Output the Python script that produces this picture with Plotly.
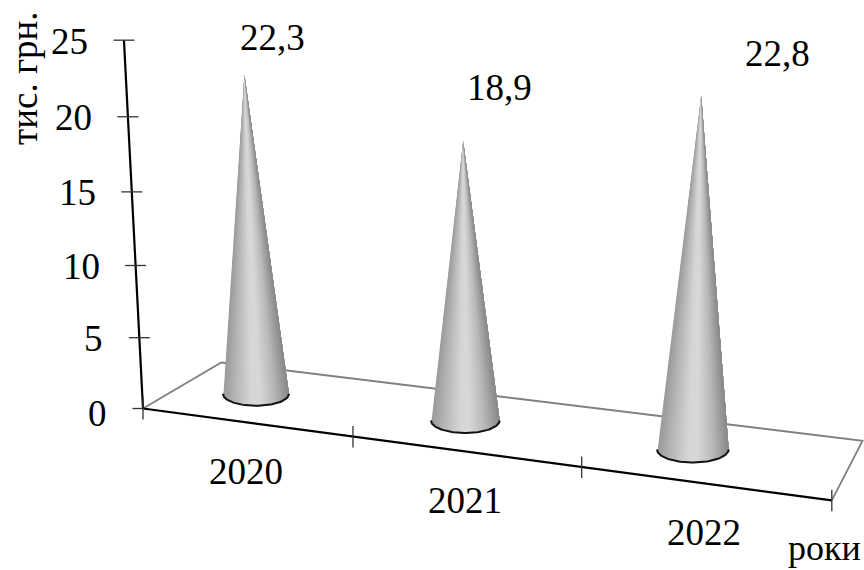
import numpy as np
import plotly.graph_objects as go

# Chart data
categories = ["2020", "2021", "2022"]
values = [22.3, 18.9, 22.8]
value_labels = ["22,3", "18,9", "22,8"]
value_ticks = [0, 5, 10, 15, 20, 25]
y_title = "тис. грн."
x_title = "роки"

FONT = "Liberation Serif"
FONT_SIZE = 37
WIDTH, HEIGHT = 864, 570


def project(u, w, v):
    """Perspective view: u along the categories, w into the depth, v up the value axis."""
    d = 1 - 0.041 * u + 0.08 * w - 0.00192 * v
    x = (143 + 195.5 * u + 96 * w - 1.0 * v) / d
    y = (408.5 + 10.1 * u - 17 * w - 14.81 * v) / d
    return x, y, d


def line(points, color, width):
    xs, ys = zip(*[project(*p)[:2] for p in points])
    return go.Scatter(x=xs, y=ys, mode="lines", line=dict(color=color, width=width),
                      hoverinfo="skip", showlegend=False)


def shade(t):
    """Grey level across the cone, t running from -1 (left) to 1 (right)."""
    stops_t = [-1.0, -0.6, -0.15, 0.1, 0.55, 1.0]
    stops_g = [155, 185, 214, 216, 185, 135]
    g = int(np.interp(t, stops_t, stops_g))
    return f"rgb({g},{g},{g})"


def cone_traces(position, value):
    cx, cy, d = project(position + 0.365, 0.5, 0)
    ax, ay, _ = project(position + 0.365, 0.5, value)
    rx, ry = 33.8 / d, 12.3 / d
    traces = []
    # Painted left to right so that each strip overlaps the next one without seams
    for t in np.linspace(-1, 1, 64)[:-1]:
        theta = np.linspace(np.arccos(t), 0, 40)
        xs = np.concatenate([[ax], cx + rx * np.cos(theta), [ax]])
        ys = np.concatenate([[ay], cy + ry * np.sin(theta), [ay]])
        traces.append(go.Scatter(x=xs, y=ys, mode="lines", fill="toself",
                                 fillcolor=shade(t), line=dict(width=0),
                                 hoverinfo="skip", showlegend=False))
    theta = np.linspace(np.pi, 0, 60)
    traces.append(go.Scatter(x=cx + rx * np.cos(theta), y=cy + ry * np.sin(theta),
                             mode="lines", line=dict(color="#111111", width=2),
                             hoverinfo="skip", showlegend=False))
    return traces


fig = go.Figure()

# Floor outline
n = len(categories)
fig.add_trace(line([(0, 0, 0), (0, 1, 0), (n, 1, 0), (n, 0, 0)], "#808080", 1.8))

# Cones
for i, value in enumerate(values):
    fig.add_traces(cone_traces(i, value))

# Value axis and its ticks
fig.add_trace(line([(0, 0, 0), (0, 0, value_ticks[-1])], "#000000", 2.2))
annotations = []
for v in value_ticks:
    x, y, _ = project(0, 0, v)
    fig.add_trace(go.Scatter(x=[x - 10.5, x + 10.5 if v else x], y=[y, y], mode="lines",
                             line=dict(color="#333333", width=1.3),
                             hoverinfo="skip", showlegend=False))
    annotations.append(dict(x=x - 34, y=y + (5 if v == 0 else 1), text=str(v), xanchor="right", yanchor="middle"))

# Category axis and its ticks
fig.add_trace(line([(0, 0, 0), (n, 0, 0)], "#000000", 2.2))
for i in range(n + 1):
    x, y, _ = project(i, 0, 0)
    fig.add_trace(go.Scatter(x=[x, x], y=[y - 10.5, y + 11], mode="lines",
                             line=dict(color="#333333", width=1.3),
                             hoverinfo="skip", showlegend=False))
for i, name in enumerate(categories):
    x, y, _ = project(i + 0.5, 0, 0)
    annotations.append(dict(x=x, y=y + 49, text=name, xanchor="center", yanchor="middle"))

# Value labels above the cones
label_offsets = [(29, -37), (37, -54), (78, -42)]
for i, (text, value) in enumerate(zip(value_labels, values)):
    x, y, _ = project(i + 0.36, 0.5, value)
    dx, dy = label_offsets[i]
    annotations.append(dict(x=x + dx, y=y + dy, text=text, xanchor="center", yanchor="middle"))

# Axis titles
annotations.append(dict(x=24, y=78, text=y_title, textangle=-90, xanchor="center", yanchor="middle"))
annotations.append(dict(x=824, y=548, text=x_title, xanchor="center", yanchor="middle",
                        font_size=36))

for a in annotations:
    size = a.pop("font_size", FONT_SIZE)
    a.update(xref="x", yref="y", showarrow=False, font=dict(family=FONT, size=size, color="#000000"))

fig.update_layout(
    width=WIDTH, height=HEIGHT,
    margin=dict(l=0, r=0, t=0, b=0),
    paper_bgcolor="#ffffff", plot_bgcolor="#ffffff",
    showlegend=False,
    annotations=annotations,
    xaxis=dict(range=[0, WIDTH], visible=False, fixedrange=True),
    yaxis=dict(range=[HEIGHT, 0], visible=False, fixedrange=True),
)

fig.write_html("out.html")
